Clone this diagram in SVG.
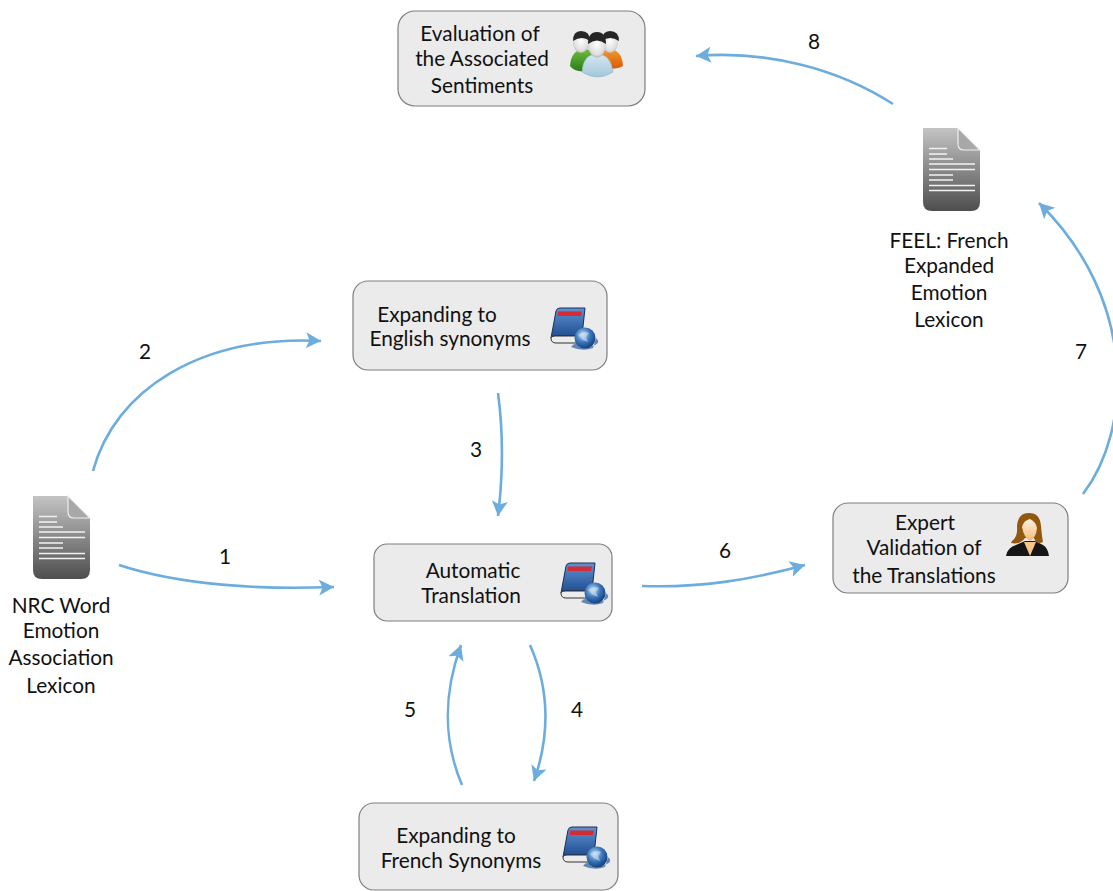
<svg xmlns="http://www.w3.org/2000/svg" xmlns:xlink="http://www.w3.org/1999/xlink" width="1113" height="891" viewBox="0 0 1113 891">
<style>
text{font-family:"Lato","Open Sans","Liberation Sans",sans-serif;font-size:20.8px;fill:#111;text-anchor:middle}
.box{fill:#ebebeb;stroke:#7f7f7f;stroke-width:1.2}
.conn{fill:none;stroke:#6cadde;stroke-width:2.6;marker-end:url(#arrow)}
.ln{stroke:#f2f2f2;stroke-width:1.3}
</style>
<defs>
<marker id="arrow" markerUnits="userSpaceOnUse" markerWidth="18" markerHeight="18" refX="15" refY="8" orient="auto"><path d="M0 0L15 8L0 16L3.500 8Z" fill="#6cadde"/></marker>
<linearGradient id="docG" x1="0" y1="0" x2="0" y2="1"><stop offset="0" stop-color="#c4c4c4"/><stop offset="1" stop-color="#4e4e4e"/></linearGradient>
<linearGradient id="bookG" x1="0" y1="0" x2="0" y2="1"><stop offset="0" stop-color="#5f92cf"/><stop offset="1" stop-color="#1d4b8f"/></linearGradient>
<radialGradient id="globeG" cx="0.4" cy="0.35" r="0.7"><stop offset="0" stop-color="#c4dcf2"/><stop offset="0.5" stop-color="#3c78bd"/><stop offset="1" stop-color="#0f3a78"/></radialGradient>
<radialGradient id="skinG" cx="0.5" cy="0.45" r="0.65"><stop offset="0" stop-color="#fff"/><stop offset="0.7" stop-color="#ddd"/><stop offset="1" stop-color="#8a8a8a"/></radialGradient>
<linearGradient id="greenG" x1="0" y1="0" x2="0" y2="1"><stop offset="0" stop-color="#6fbf3c"/><stop offset="1" stop-color="#2a7a18"/></linearGradient>
<linearGradient id="orangeG" x1="0" y1="0" x2="0" y2="1"><stop offset="0" stop-color="#f59a2c"/><stop offset="1" stop-color="#d85a08"/></linearGradient>
<linearGradient id="blueG" x1="0" y1="0" x2="0" y2="1"><stop offset="0" stop-color="#d6e8f0"/><stop offset="1" stop-color="#a3c6da"/></linearGradient>
<linearGradient id="faceG" x1="0" y1="0" x2="0" y2="1"><stop offset="0" stop-color="#fff2e0"/><stop offset="1" stop-color="#f3b878"/></linearGradient>
<symbol id="doc" overflow="visible">
<path d="M0 0H35L57 22V74Q57 83 48 83H9Q0 83 0 74Z" fill="url(#docG)"/>
<path d="M35 0V16Q35 22 41 22H57Z" fill="#a8a8a8" stroke="#eee" stroke-width="1.2"/>
<path class="ln" d="M6 20.500H24M6 26H24M6 31H30M6 36H52M6 41.500H52M6 47H30M6 52H30M6 57.500H52M6 62.500H52"/>
</symbol>
<symbol id="book" overflow="visible">
<path d="M0 30L5 3Q6 0 9 0H34L31 28H4Q0 28 0 30Z" fill="url(#bookG)" stroke="#1c2f55"/>
<path d="M0 30Q0 35 5 35H28V28H4Q0 28 0 30Z" fill="#ececec" stroke="#333"/>
<path d="M7 3.500H31L30 8H6.500Z" fill="#d42b35"/>
<path d="M20 39Q24 33 30 38Q38 40 44 37Q50 34 45 30L42 40Q32 44 20 39Z" fill="#2a5c9c" opacity=".7"/>
<circle cx="34" cy="30" r="10.500" fill="url(#globeG)"/>
<path d="M27 27Q32 22 38 25L35 29L37 34L32 32Z" fill="#d5e5f3" opacity=".55"/>
</symbol>
<symbol id="people" overflow="visible">
<path d="M0 36Q1 20 14 19Q24 19 28 30L18 41Q5 43 0 36Z" fill="url(#greenG)"/>
<path d="M53 36Q52 19 38 19Q29 19 26 28L34 38Q46 40 53 36Z" fill="url(#orangeG)"/>
<ellipse cx="11" cy="12" rx="8" ry="11" fill="url(#skinG)"/><path d="M3 11Q3 1 11 1Q20 1 20 11Q12 5 3 11Z" fill="#262626"/>
<ellipse cx="40" cy="12" rx="8" ry="11" fill="url(#skinG)"/><path d="M32 11Q32 1 40 1Q49 1 49 11Q40 5 32 11Z" fill="#262626"/>
<path d="M12 42Q13 24 27 24Q41 24 43 42Q28 52 12 42Z" fill="url(#blueG)" stroke="#8db1c6" stroke-width=".6"/>
<ellipse cx="27" cy="15" rx="9" ry="12.500" fill="url(#skinG)"/><path d="M18 14Q18 2 27 2Q36 2 36 14Q27 7 18 14Z" fill="#262626"/>
</symbol>
<symbol id="woman" overflow="visible">
<path d="M0 43Q1 35 10 32L19 28H29L37 32Q42 35 43 43Z" fill="#161616"/>
<path d="M18 29L24 43L30 29Z" fill="#f7c48a"/>
<path d="M6 28Q12 24 11 13Q12 0 23 0Q34 0 35 13Q36 24 37 29Q30 32 28 25H19Q14 32 5 30Z" fill="#93580f"/>
<path d="M16 14Q18 7 24 6Q30 9 31 15Q30 25 24 28Q18 25 16 14Z" fill="url(#faceG)"/>
</symbol>
</defs>
<g id="connectors">
<path class="conn" d="M119 565C180 585 260 590 334 587"/>
<path class="conn" d="M93 471C115 390 200 335 321 341"/>
<path class="conn" d="M498 393C503 430 503 475 498 516"/>
<path class="conn" d="M530 645C550 690 550 735 534 781"/>
<path class="conn" d="M462 785C443 740 443 695 461 645"/>
<path class="conn" d="M642 586C700 588 750 580 805 565"/>
<path class="conn" d="M1083 494C1132 430 1138 300 1039 203"/>
<path class="conn" d="M893 104C840 70 770 50 696 56"/>
</g>
<g id="labels">
<text x="225" y="564">1</text><text x="145" y="359">2</text><text x="476" y="457">3</text><text x="577" y="717">4</text><text x="410" y="717">5</text><text x="725" y="558">6</text><text x="1081" y="359">7</text><text x="814" y="49">8</text>
</g>
<g id="node-evaluation"><rect class="box" x="398" y="11" width="247" height="95" rx="17"/>
<text x="480" y="41">Evaluation of</text><text x="482" y="66">the Associated</text><text x="482" y="93">Sentiments</text>
<use xlink:href="#people" href="#people" x="570" y="30"/></g>
<g id="node-feel"><use xlink:href="#doc" href="#doc" x="923" y="128"/>
<text x="949" y="248">FEEL: French</text><text x="949" y="273">Expanded</text><text x="949" y="300">Emotion</text><text x="949" y="327">Lexicon</text></g>
<g id="node-english"><rect class="box" x="353" y="281" width="254" height="89" rx="15"/>
<text x="437" y="322">Expanding to</text><text x="450" y="346">English synonyms</text>
<use xlink:href="#book" href="#book" x="551" y="308"/></g>
<g id="node-nrc"><use xlink:href="#doc" href="#doc" x="33" y="496"/>
<text x="61" y="613">NRC Word</text><text x="61" y="638">Emotion</text><text x="61" y="665">Association</text><text x="61" y="693">Lexicon</text></g>
<g id="node-translation"><rect class="box" x="374" y="544" width="238" height="77" rx="13"/>
<text x="473" y="578">Automatic</text><text x="471" y="603">Translation</text>
<use xlink:href="#book" href="#book" x="561" y="563"/></g>
<g id="node-expert"><rect class="box" x="833" y="503" width="235" height="90" rx="15"/>
<text x="925" y="530">Expert</text><text x="924" y="555">Validation of</text><text x="924" y="583">the Translations</text>
<use xlink:href="#woman" href="#woman" x="1006" y="513"/></g>
<g id="node-french"><rect class="box" x="359" y="803" width="259" height="87" rx="15"/>
<text x="456" y="843">Expanding to</text><text x="461" y="868">French Synonyms</text>
<use xlink:href="#book" href="#book" x="563" y="827"/></g>
</svg>
